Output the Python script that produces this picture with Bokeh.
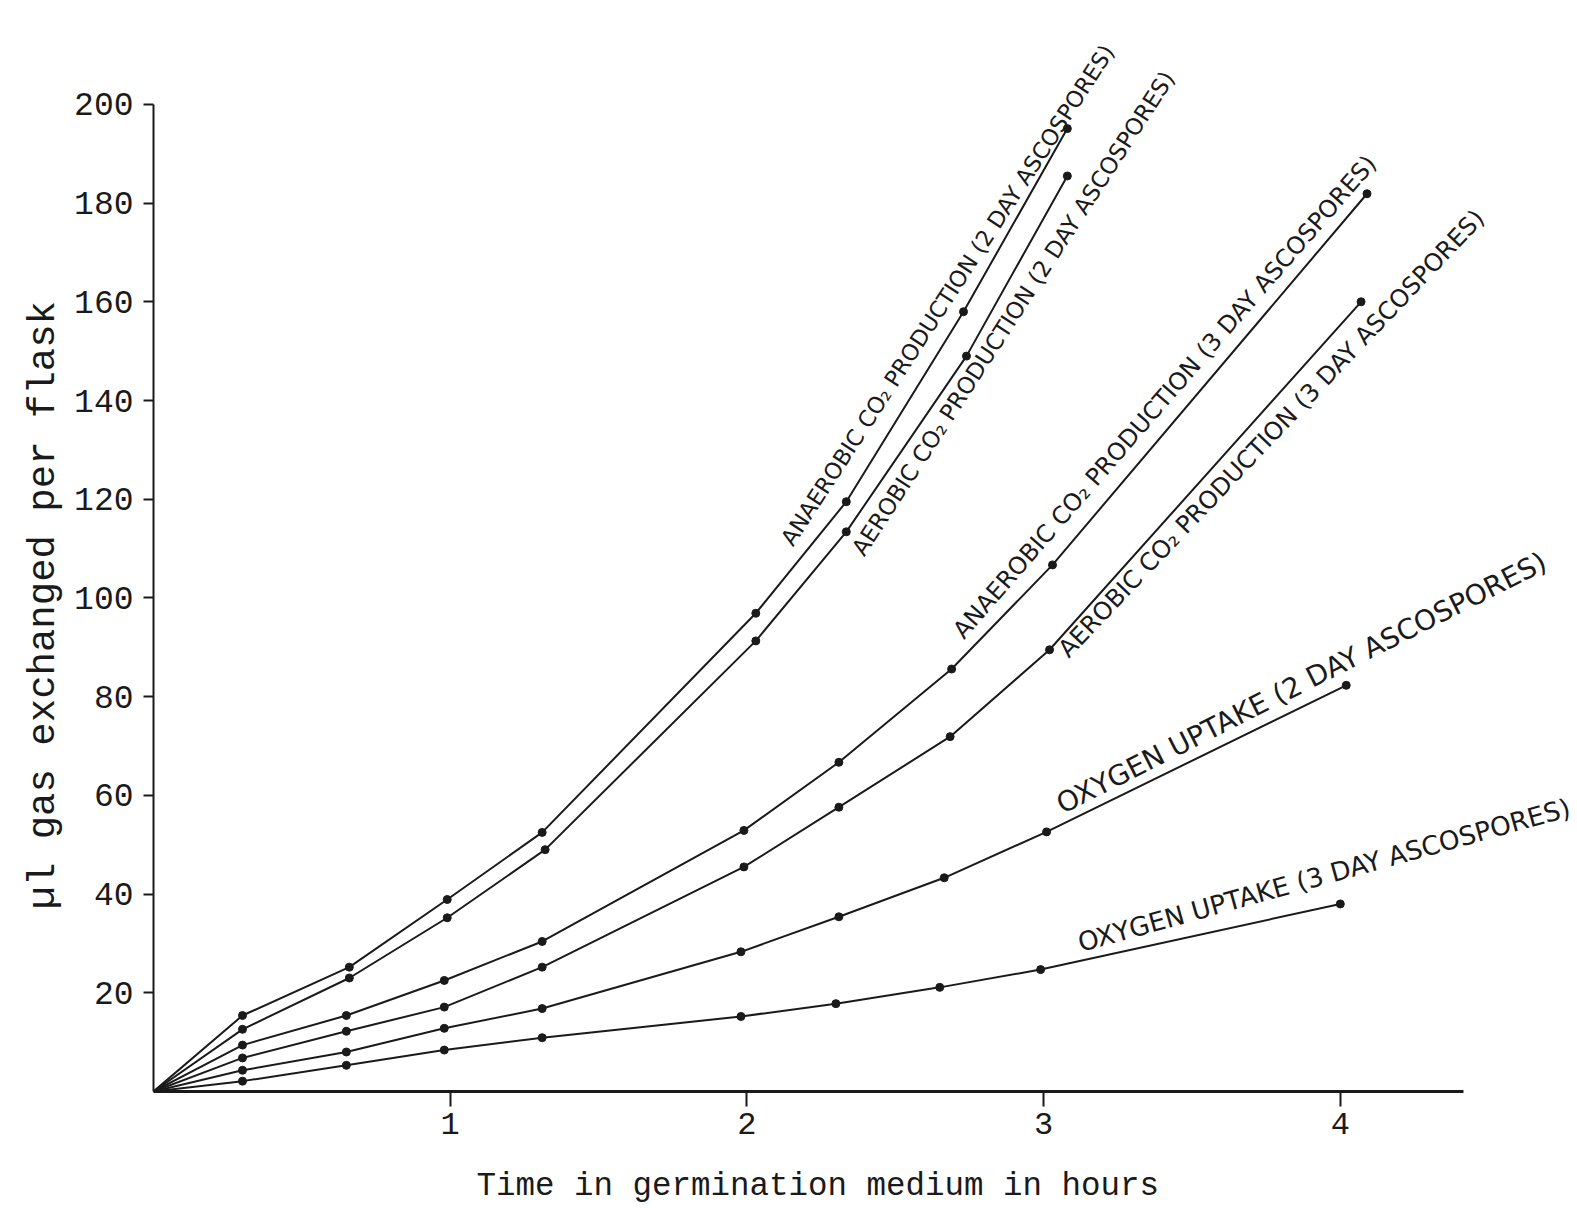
from bokeh.plotting import figure
from bokeh.models import Range1d, FixedTicker, Label, Title
from bokeh.embed import file_html
from bokeh.resources import INLINE

# ---- data (hours, µl gas per flask) ----
t_anaer2 = [0, 0.30, 0.66, 0.99, 1.31, 2.03, 2.335, 2.73, 3.08]
v_anaer2 = [0, 15.4, 25.2, 38.9, 52.5, 96.9, 119.5, 158.0, 195.1]

t_aer2 = [0, 0.30, 0.66, 0.99, 1.32, 2.03, 2.335, 2.74, 3.08]
v_aer2 = [0, 12.6, 23.0, 35.2, 49.0, 91.3, 113.4, 149.0, 185.5]

t_anaer3 = [0, 0.30, 0.65, 0.98, 1.31, 1.99, 2.31, 2.69, 3.03, 4.09]
v_anaer3 = [0, 9.4, 15.4, 22.5, 30.4, 52.9, 66.7, 85.6, 106.7, 181.9]

t_aer3 = [0, 0.30, 0.65, 0.98, 1.31, 1.99, 2.31, 2.685, 3.02, 4.07]
v_aer3 = [0, 6.8, 12.2, 17.1, 25.2, 45.5, 57.6, 71.9, 89.5, 160.0]

t_o2_2 = [0, 0.30, 0.65, 0.98, 1.31, 1.98, 2.31, 2.665, 3.01, 4.02]
v_o2_2 = [0, 4.3, 8.0, 12.8, 16.8, 28.3, 35.4, 43.3, 52.6, 82.3]

t_o2_3 = [0, 0.30, 0.65, 0.98, 1.31, 1.98, 2.30, 2.65, 2.99, 4.00]
v_o2_3 = [0, 2.1, 5.3, 8.4, 10.9, 15.2, 17.8, 21.1, 24.7, 38.0]

x_ticks = [1, 2, 3, 4]
y_ticks = [20, 40, 60, 80, 100, 120, 140, 160, 180, 200]

series_labels = [
    "ANAEROBIC CO₂ PRODUCTION (2 DAY ASCOSPORES)",
    "AEROBIC CO₂ PRODUCTION (2 DAY ASCOSPORES)",
    "ANAEROBIC CO₂ PRODUCTION (3 DAY ASCOSPORES)",
    "AEROBIC CO₂  PRODUCTION (3 DAY ASCOSPORES)",
    "OXYGEN  UPTAKE (2 DAY ASCOSPORES)",
    "OXYGEN  UPTAKE (3 DAY ASCOSPORES)",
]
# label anchor positions (data units) / angles / sizes
label_x = [2.133, 2.373, 2.711, 3.064, 3.05, 3.118]
label_y = [111.1, 109.1, 92.5, 88.8, 57.9, 30.0]
label_angle_deg = [57, 57, 49, 46.5, 26.8, 15.5]
label_size = [22.5, 23, 24, 24.4, 28, 26.2]

x_title = "Time in germination medium in hours"
y_title = "µl gas exchanged per flask"

# ---- figure ----
W, H = 1575, 1206
LEFT, BOTTOM = 153, 114
PX_PER_HOUR, PX_PER_UNIT = 296.7, 4.94
x_end = (W - LEFT) / PX_PER_HOUR
y_end = (H - BOTTOM) / PX_PER_UNIT

p = figure(width=W, height=H, output_backend="svg", toolbar_location=None,
           x_range=Range1d(0, x_end), y_range=Range1d(0, y_end),
           min_border_left=LEFT, min_border_right=0, min_border_top=0,
           min_border_bottom=BOTTOM, background_fill_color="white",
           border_fill_color="white")
p.grid.visible = False
p.outline_line_color = None

mono = "Liberation Mono"
ink = "#1a1a1a"

for ax in (p.xaxis[0], p.yaxis[0]):
    ax.axis_line_color = ink
    ax.major_tick_line_color = ink
    ax.minor_tick_line_color = None
    ax.major_tick_in = 0
    ax.major_label_text_font = mono
    ax.major_label_text_color = ink

p.xaxis.ticker = FixedTicker(ticks=x_ticks)
p.yaxis.ticker = FixedTicker(ticks=y_ticks)
p.xaxis.bounds = (0, 4.415)
p.yaxis.bounds = (0, 200)
p.xaxis.axis_line_width = 3
p.yaxis.axis_line_width = 2
p.xaxis.major_tick_line_width = 2
p.yaxis.major_tick_line_width = 2
p.xaxis.major_tick_out = 15
p.yaxis.major_tick_out = 10
p.xaxis.major_label_standoff = 6
p.yaxis.major_label_standoff = 10
p.xaxis.major_label_text_font_size = "32px"
p.yaxis.major_label_text_font_size = "33px"

series = [(t_anaer2, v_anaer2), (t_aer2, v_aer2), (t_anaer3, v_anaer3),
          (t_aer3, v_aer3), (t_o2_2, v_o2_2), (t_o2_3, v_o2_3)]
for ts, vs in series:
    p.line(ts, vs, line_color=ink, line_width=2)
    p.scatter(ts[1:], vs[1:], size=8, marker="circle", fill_color=ink,
              line_color=ink, line_width=1)

for txt, lx, ly, ang, sz in zip(series_labels, label_x, label_y,
                                label_angle_deg, label_size):
    p.add_layout(Label(x=lx, y=ly, text=txt, angle=ang * 3.14159265 / 180,
                       text_align="left", text_baseline="middle",
                       text_font="DejaVu Sans", text_font_size=f"{sz}px",
                       text_color=ink))

# axis titles, placed where the original typed them
xt_kw = dict(text=x_title, align="left", offset=323, text_font=mono,
             text_font_style="normal", text_font_size="32.5px",
             text_color=ink)
if "padding" in Title.properties():
    xt_kw.update(vertical_align="top", standoff=0,
                 padding=dict(left=0, right=0, top=31, bottom=0))
else:
    xt_kw.update(vertical_align="middle", standoff=22)
p.add_layout(Title(**xt_kw), "below")
p.add_layout(Title(text=y_title, align="left", offset=182,
                   vertical_align="middle", standoff=10,
                   text_font=mono, text_font_style="normal",
                   text_font_size="39px", text_color=ink), "left")

open("out.html", "w").write(file_html(p, INLINE))
